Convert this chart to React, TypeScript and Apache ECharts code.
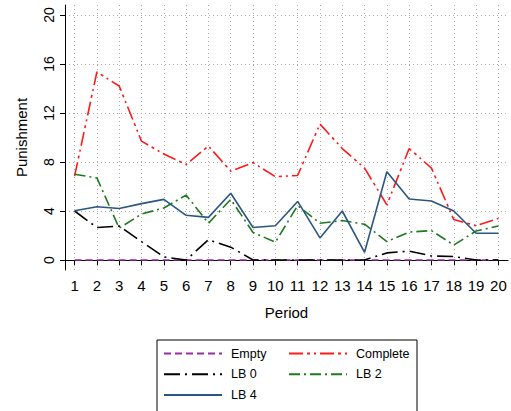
import React, { useEffect, useRef } from "react";
import * as echarts from "echarts";

// Periods 1..20 and the mean punishment per treatment
const periods = [1, 2, 3, 4, 5, 6, 7, 8, 9, 10, 11, 12, 13, 14, 15, 16, 17, 18, 19, 20];
const emptyVals = [0, 0, 0, 0, 0, 0, 0, 0, 0, 0, 0, 0, 0, 0, 0, 0, 0, 0, 0, 0];
const completeVals = [6.85, 15.35, 14.2, 9.7, 8.65, 7.8, 9.3, 7.25, 7.95, 6.8, 6.9, 11.1, 9.1, 7.5, 4.5, 9.1, 7.5, 3.3, 2.8, 3.4];
const lb0Vals = [4.0, 2.65, 2.77, 1.5, 0.25, 0, 1.65, 1.05, 0, 0, 0, 0, 0, 0, 0.58, 0.73, 0.33, 0.28, 0, 0];
const lb2Vals = [7.0, 6.7, 2.6, 3.75, 4.25, 5.3, 3.0, 4.95, 2.25, 1.45, 4.45, 3.0, 3.22, 2.92, 1.5, 2.28, 2.4, 1.22, 2.37, 2.77];
const lb4Vals = [4.02, 4.35, 4.2, 4.6, 4.95, 3.65, 3.48, 5.45, 2.65, 2.8, 4.78, 1.8, 4.0, 0.63, 7.2, 4.98, 4.82, 4.0, 2.18, 2.18];
const yTicks = [0, 4, 8, 12, 16, 20];

const FONT = "Liberation Sans, Arial, sans-serif";

const pairs = (vals: number[]) => periods.map((p, i) => [p, vals[i]]);

export default function App() {
  const ref = useRef<HTMLDivElement>(null);

  useEffect(() => {
    if (!ref.current) return;
    const chart = echarts.init(ref.current, null, { renderer: "svg" });

    const mk = (name: string, vals: number[], color: string, type: any) => ({
      name,
      type: "line",
      data: pairs(vals),
      symbol: "none",
      showSymbol: false,
      lineStyle: { color, width: 1.6, type },
      itemStyle: { color },
      z: 3,
    });

    const legendText = {
      fontFamily: FONT,
      fontSize: 12.5,
      color: "#000",
      padding: [0, 0, 0, 4],
    };

    // legend keys are plain line samples, without the marker symbol
    const legendBase = {
      orient: "vertical",
      top: 347,
      itemWidth: 58,
      itemHeight: 14,
      itemGap: 7.7,
      padding: 0,
      textStyle: legendText,
      itemStyle: { color: "rgba(0,0,0,0)", borderWidth: 0, opacity: 0 },
    };

    chart.setOption({
      animation: false,
      backgroundColor: "#fff",
      grid: { left: 65, top: 5, right: 3, bottom: 141, containLabel: false },
      xAxis: {
        type: "value",
        min: 0.57,
        max: 20.43,
        name: "Period",
        nameLocation: "middle",
        nameGap: 35,
        nameTextStyle: { fontFamily: FONT, fontSize: 15, color: "#000" },
        axisLine: { show: true, lineStyle: { color: "#000", width: 1 } },
        axisTick: { show: true, length: 5, lineStyle: { color: "#000" }, customValues: periods },
        axisLabel: { fontFamily: FONT, fontSize: 15, color: "#000", margin: 8, customValues: periods },
        splitLine: { show: true, lineStyle: { color: "#aaa", type: [1, 3], width: 1 } },
      },
      yAxis: {
        type: "value",
        min: -0.816,
        max: 20.816,
        name: "Punishment",
        nameLocation: "middle",
        nameGap: 36,
        nameTextStyle: { fontFamily: FONT, fontSize: 15, color: "#000" },
        axisLine: { show: true, lineStyle: { color: "#000", width: 1 } },
        axisTick: { show: true, length: 5, lineStyle: { color: "#000" }, customValues: yTicks },
        axisLabel: { fontFamily: FONT, fontSize: 14, color: "#000", margin: 9, rotate: 90, customValues: yTicks },
        splitLine: { show: true, lineStyle: { color: "#aaa", type: [1, 3], width: 1 } },
      },
      legend: [
        { ...legendBase, data: ["Empty", "LB 0", "LB 4"], left: 163 },
        { ...legendBase, data: ["Complete", "LB 2"], left: 288 },
      ],
      graphic: [
        {
          type: "rect",
          shape: { x: 157, y: 340, width: 260, height: 90 },
          style: { fill: "none", stroke: "#000", lineWidth: 1 },
          silent: true,
        },
      ],
      series: [
        mk("Empty", emptyVals, "#9a2aa8", [7, 4]),
        mk("Complete", completeVals, "#ff1a1a", [14, 4, 3, 4, 2, 4]),
        mk("LB 0", lb0Vals, "#000000", [16, 5, 2, 5]),
        mk("LB 2", lb2Vals, "#1f7a1f", [11, 4, 2, 4]),
        mk("LB 4", lb4Vals, "#2a5680", "solid"),
      ],
    });

    return () => chart.dispose();
  }, []);

  return <div ref={ref} style={{ width: 511, height: 411, position: "absolute", left: 0, top: 0 }} />;
}
